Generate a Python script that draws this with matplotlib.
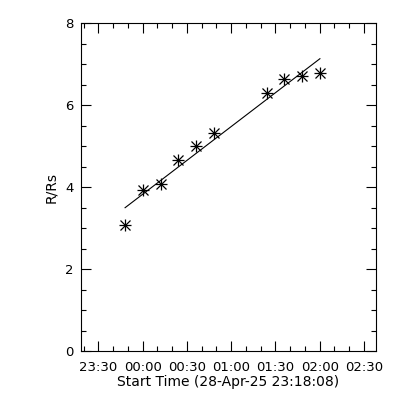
import numpy as np
import matplotlib
matplotlib.use("Agg")
import matplotlib.pyplot as plt
from datetime import datetime, timedelta

# Observation times and heights (R/Rs)
start = datetime(2025, 4, 28, 23, 18, 8)
times = ["23:48:08", "00:00:08", "00:12:08", "00:24:08", "00:36:08",
         "00:48:08", "01:24:08", "01:36:08", "01:48:08", "02:00:08"]
heights = [3.07, 3.93, 4.07, 4.66, 5.00, 5.32, 6.29, 6.63, 6.71, 6.78]

tick_labels = ["23:30", "00:00", "00:30", "01:00", "01:30", "02:00", "02:30"]


def minutes_since_start(s):
    h, m, sec = map(int, s.split(":"))
    t = datetime(2025, 4, 28, h, m, sec)
    if t < start:
        t += timedelta(days=1)
    return (t - start).total_seconds() / 60.0


x = np.array([minutes_since_start(t) for t in times])
y = np.array(heights)
tick_pos = [minutes_since_start(t + ":00") for t in tick_labels]

# Linear fit
coef = np.polyfit(x, y, 1)
xf = np.array([x.min(), x.max()])
yf = np.polyval(coef, xf)

fig = plt.figure(figsize=(4, 4), dpi=100)
ax = fig.add_axes([0.202, 0.1225, 0.738, 0.82])

ax.plot(xf, yf, color="black", lw=0.8)
ax.plot(x, y, ls="none", marker="+", ms=8.5, mew=0.9, color="black")
ax.plot(x, y, ls="none", marker="x", ms=6.5, mew=0.9, color="black")

ax.set_xlim(0, 200)
ax.set_ylim(0, 8)
ax.set_xticks(tick_pos)
ax.set_xticklabels(tick_labels)
ax.set_xticks(np.arange(tick_pos[0] - 10, 200, 10), minor=True)
ax.set_yticks([0, 2, 4, 6, 8])
ax.set_yticks(np.arange(0, 8.01, 0.5), minor=True)

ax.tick_params(which="both", direction="in", top=True, right=True,
               labelsize=9.5, width=0.8, colors="black")
ax.tick_params(which="major", length=7)
ax.tick_params(which="minor", length=3.5)
ax.tick_params(axis="x", pad=7.5)
ax.tick_params(axis="y", pad=5)
for sp in ax.spines.values():
    sp.set_linewidth(0.8)

ax.set_xlabel("Start Time (28-Apr-25 23:18:08)", fontsize=10, labelpad=0.5)
ax.set_ylabel("R/Rs", fontsize=10, labelpad=5)

fig.savefig("out.png", dpi=100)
